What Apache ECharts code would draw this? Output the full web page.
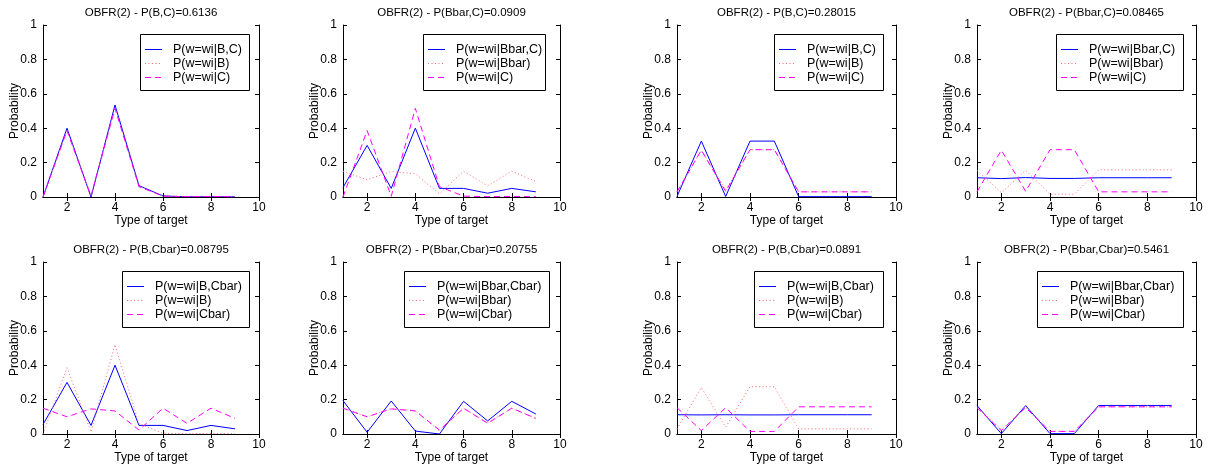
<!DOCTYPE html>
<html>
<head>
<meta charset="utf-8">
<script src="https://cdn.jsdelivr.net/npm/echarts@6/dist/echarts.min.js"></script>
<style>
  html, body { margin: 0; padding: 0; background: #fff; }
  #chart { width: 1212px; height: 470px; }
</style>
</head>
<body>
<div id="chart"></div>
<script>
// type of target (x)
var types = [1, 2, 3, 4, 5, 6, 7, 8, 9];
var xTicks = [2, 4, 6, 8, 10];

// first case (left figure)
var pB1 = [0, 0.385, 0.012, 0.52, 0.06, 0.004, 0.002, 0.003, 0.002];
var pC1 = [0, 0.386, 0.004, 0.515, 0.06, 0.005, 0.002, 0.003, 0.002];
var pBbar1 = [0.15, 0.10, 0.148, 0.135, 0.018, 0.15, 0.065, 0.15, 0.09];
var pCbar1 = [0.15, 0.10, 0.146, 0.134, 0.023, 0.15, 0.062, 0.15, 0.091];
var pBC1 = [0, 0.40, 0, 0.535, 0.066, 0.006, 0.001, 0.002, 0.001];
var pBbarC1 = [0.055, 0.30, 0.05, 0.40, 0.05, 0.05, 0.022, 0.05, 0.03];
var pBCbar1 = [0.055, 0.30, 0.05, 0.40, 0.05, 0.05, 0.02, 0.05, 0.03];
var pBbarCbar1 = [0.194, 0.01, 0.192, 0.017, 0, 0.19, 0.076, 0.19, 0.116];

// second case (right figure)
var pB2 = [0.03, 0.27, 0.04, 0.275, 0.275, 0.03, 0.03, 0.03, 0.03];
var pC2 = [0.03, 0.272, 0.033, 0.275, 0.275, 0.03, 0.03, 0.03, 0.03];
var pBbar2 = [0.155, 0.025, 0.155, 0.016, 0.016, 0.158, 0.158, 0.158, 0.158];
var pCbar2 = [0.153, 0.02, 0.153, 0.015, 0.015, 0.158, 0.158, 0.158, 0.158];
var pBC2 = [0.003, 0.325, 0.003, 0.325, 0.325, 0.002, 0.002, 0.002, 0.002];
var pBbarC2 = [0.112, 0.107, 0.113, 0.108, 0.108, 0.112, 0.112, 0.112, 0.112];
var pBCbar2 = [0.112, 0.111, 0.112, 0.111, 0.111, 0.112, 0.112, 0.112, 0.112];
var pBbarCbar2 = [0.165, 0.002, 0.165, 0.002, 0.002, 0.166, 0.166, 0.166, 0.166];

var titles = [
    'OBFR(2) - P(B,C)=0.6136', 'OBFR(2) - P(Bbar,C)=0.0909',
    'OBFR(2) - P(B,C)=0.28015', 'OBFR(2) - P(Bbar,C)=0.08465',
    'OBFR(2) - P(B,Cbar)=0.08795', 'OBFR(2) - P(Bbar,Cbar)=0.20755',
    'OBFR(2) - P(B,Cbar)=0.0891', 'OBFR(2) - P(Bbar,Cbar)=0.5461'
];

// [joint, first, second] per panel
var panelLines = [
    [['P(w=wi|B,C)', pBC1], ['P(w=wi|B)', pB1], ['P(w=wi|C)', pC1]],
    [['P(w=wi|Bbar,C)', pBbarC1], ['P(w=wi|Bbar)', pBbar1], ['P(w=wi|C)', pC1]],
    [['P(w=wi|B,C)', pBC2], ['P(w=wi|B)', pB2], ['P(w=wi|C)', pC2]],
    [['P(w=wi|Bbar,C)', pBbarC2], ['P(w=wi|Bbar)', pBbar2], ['P(w=wi|C)', pC2]],
    [['P(w=wi|B,Cbar)', pBCbar1], ['P(w=wi|B)', pB1], ['P(w=wi|Cbar)', pCbar1]],
    [['P(w=wi|Bbar,Cbar)', pBbarCbar1], ['P(w=wi|Bbar)', pBbar1], ['P(w=wi|Cbar)', pCbar1]],
    [['P(w=wi|B,Cbar)', pBCbar2], ['P(w=wi|B)', pB2], ['P(w=wi|Cbar)', pCbar2]],
    [['P(w=wi|Bbar,Cbar)', pBbarCbar2], ['P(w=wi|Bbar)', pBbar2], ['P(w=wi|Cbar)', pCbar2]]
];

// layout
var cols = [[43, 259], [343, 560], [677, 896], [977, 1196]];
var rows = [[25, 197], [262, 434]];
var legendBox = [[140, 249], [423, 545], [774, 883], [1056, 1183],
                 [122, 249], [404, 549], [754, 883], [1037, 1183]];
var styles = [
    { color: '#0000ff', type: 'solid', dash: null },
    { color: '#ff6a6a', type: [1, 2.5], dash: [1, 2.5] },
    { color: '#ff00ff', type: [6, 4], dash: [6, 4] }
];
var font = 'Liberation Sans, Arial, Helvetica, sans-serif';

var grid = [], xAxis = [], yAxis = [], series = [], title = [], graphic = [];

panelLines.forEach(function (lines, i) {
    var c = cols[i % 4], r = rows[Math.floor(i / 4)];
    grid.push({ left: c[0], top: r[0], width: c[1] - c[0], height: r[1] - r[0] });

    var axLine = { show: true, lineStyle: { color: '#000', width: 1 } };
    var tick = { show: true, inside: true, length: 4, lineStyle: { color: '#000' } };
    xAxis.push({
        type: 'value', gridIndex: i, min: 1, max: 10,
        name: 'Type of target', nameLocation: 'middle', nameGap: 18, nameMoveOverlap: false,
        nameTextStyle: { fontFamily: font, fontSize: 12, color: '#000' },
        axisLine: axLine,
        axisTick: Object.assign({ customValues: xTicks }, tick),
        axisLabel: { customValues: xTicks, fontFamily: font, fontSize: 12, color: '#000', margin: 5 },
        splitLine: { show: false }
    });
    xAxis.push({
        type: 'value', gridIndex: i, min: 1, max: 10, position: 'top',
        axisLine: axLine,
        axisTick: Object.assign({ customValues: xTicks }, tick),
        axisLabel: { show: false }, splitLine: { show: false }
    });
    yAxis.push({
        type: 'value', gridIndex: i, min: 0, max: 1, interval: 0.2,
        name: 'Probability', nameLocation: 'middle', nameGap: 22, nameMoveOverlap: false,
        nameTextStyle: { fontFamily: font, fontSize: 12, color: '#000' },
        axisLine: axLine, axisTick: tick,
        axisLabel: { fontFamily: font, fontSize: 12, color: '#000', margin: 6 },
        splitLine: { show: false }
    });
    yAxis.push({
        type: 'value', gridIndex: i, min: 0, max: 1, interval: 0.2, position: 'right',
        axisLine: axLine, axisTick: tick,
        axisLabel: { show: false }, splitLine: { show: false }
    });

    lines.forEach(function (ln, k) {
        series.push({
            name: ln[0], type: 'line', xAxisIndex: i * 2, yAxisIndex: i * 2,
            symbol: 'none', silent: true, animation: false,
            data: types.map(function (t, j) { return [t, ln[1][j]]; }),
            lineStyle: { color: styles[k].color, type: styles[k].type, width: 1 },
            itemStyle: { color: styles[k].color }
        });
    });

    title.push({
        text: titles[i], left: (c[0] + c[1]) / 2, textAlign: 'center',
        top: r[0] - 18, padding: 0,
        textStyle: { fontFamily: font, fontSize: 11.5, fontWeight: 'normal', color: '#000' }
    });

    // matlab style legend box
    var lb = legendBox[i], top = r[0] + 9;
    var children = [{
        type: 'rect',
        shape: { x: lb[0] + 0.5, y: top + 0.5, width: lb[1] - lb[0], height: 56 },
        style: { fill: '#fff', stroke: '#000', lineWidth: 1 }
    }];
    lines.forEach(function (ln, k) {
        var yc = top + 15 + k * 14;
        children.push({
            type: 'line',
            shape: { x1: lb[0] + 5, y1: yc + 0.5, x2: lb[0] + 22, y2: yc + 0.5 },
            style: { stroke: styles[k].color, lineWidth: 1, lineDash: styles[k].dash }
        });
        children.push({
            type: 'text',
            style: {
                text: ln[0], x: lb[0] + 33, y: yc + 1, verticalAlign: 'middle',
                font: '12.5px ' + font, fill: '#000'
            }
        });
    });
    graphic.push({ type: 'group', silent: true, z: 100, children: children });
});

var myChart = echarts.init(document.getElementById('chart'));
myChart.setOption({
    animation: false,
    backgroundColor: '#fff',
    title: title,
    grid: grid,
    xAxis: xAxis,
    yAxis: yAxis,
    series: series,
    graphic: graphic
});
</script>
</body>
</html>
